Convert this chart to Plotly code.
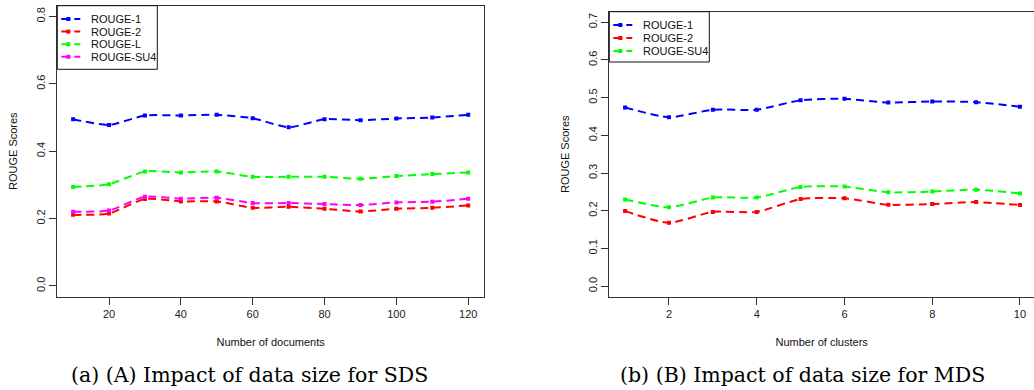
import plotly.graph_objects as go

W, H = 1034, 390

# ---- data ----
docs = [10, 20, 30, 40, 50, 60, 70, 80, 90, 100, 110, 120]
sds_rouge1 = [0.495, 0.478, 0.506, 0.506, 0.508, 0.498, 0.471, 0.495, 0.492, 0.497, 0.500, 0.508]
sds_rouge2 = [0.211, 0.215, 0.258, 0.251, 0.251, 0.232, 0.235, 0.229, 0.221, 0.229, 0.232, 0.239]
sds_rougeL = [0.294, 0.302, 0.340, 0.337, 0.340, 0.324, 0.324, 0.324, 0.318, 0.326, 0.332, 0.337]
sds_rougeSU4 = [0.220, 0.224, 0.265, 0.259, 0.262, 0.246, 0.246, 0.243, 0.240, 0.248, 0.250, 0.259]

clusters = [1, 2, 3, 4, 5, 6, 7, 8, 9, 10]
mds_rouge1 = [0.474, 0.448, 0.468, 0.468, 0.493, 0.497, 0.487, 0.490, 0.488, 0.476]
mds_rouge2 = [0.199, 0.168, 0.197, 0.197, 0.231, 0.233, 0.216, 0.218, 0.223, 0.215]
mds_rougeSU4 = [0.230, 0.209, 0.235, 0.235, 0.263, 0.264, 0.249, 0.251, 0.256, 0.246]

sds_names = ["ROUGE-1", "ROUGE-2", "ROUGE-L", "ROUGE-SU4"]
sds_colors = ["#0000ff", "#ff0000", "#00ff00", "#ff00ff"]
mds_names = ["ROUGE-1", "ROUGE-2", "ROUGE-SU4"]
mds_colors = ["#0000ff", "#ff0000", "#00ff00"]

xticks_sds = [20, 40, 60, 80, 100, 120]
yticks_sds = [0.0, 0.2, 0.4, 0.6, 0.8]
xticks_mds = [2, 4, 6, 8, 10]
yticks_mds = [0.0, 0.1, 0.2, 0.3, 0.4, 0.5, 0.6, 0.7]

captions = ["(a) (A) Impact of data size for SDS", "(b) (B) Impact of data size for MDS"]

FONT = "Liberation Sans, Arial, sans-serif"
AX = "#333333"
DASH = "8px,5px"

def px(x):
    return x / W

def py(y):
    return (H - y) / H

fig = go.Figure()

for name, col, vals in zip(sds_names, sds_colors, [sds_rouge1, sds_rouge2, sds_rougeL, sds_rougeSU4]):
    fig.add_trace(go.Scatter(x=docs, y=vals, name=name, mode="lines+markers",
                             line=dict(color=col, width=2, dash=DASH, shape="spline", smoothing=0.6),
                             marker=dict(symbol="square", size=4, color=col),
                             xaxis="x", yaxis="y", showlegend=False))
for name, col, vals in zip(mds_names, mds_colors, [mds_rouge1, mds_rouge2, mds_rougeSU4]):
    fig.add_trace(go.Scatter(x=clusters, y=vals, name=name, mode="lines+markers",
                             line=dict(color=col, width=2, dash=DASH, shape="spline", smoothing=0.6),
                             marker=dict(symbol="square", size=4, color=col),
                             xaxis="x2", yaxis="y2", showlegend=False))

axis_common = dict(showgrid=False, zeroline=False, showline=True, linecolor=AX, linewidth=1,
                   ticks="outside", ticklen=7, tickcolor=AX, tickwidth=1,
                   tickfont=dict(family=FONT, size=11, color="#222222"),
                   title_font=dict(family=FONT, size=11, color="#111111"))

fig.update_layout(
    width=W, height=H, margin=dict(l=0, r=0, t=0, b=0),
    paper_bgcolor="white", plot_bgcolor="white",
    xaxis=dict(axis_common, domain=[px(57.3), px(484)], range=[5.6, 124.4], tickvals=xticks_sds,
               mirror=True, anchor="y",
               title=dict(text="Number of documents", standoff=19)),
    yaxis=dict(axis_common, domain=[py(296.7), py(5.7)], range=[-0.032, 0.832], tickvals=yticks_sds,
               ticktext=[f"{v:.1f}" for v in yticks_sds], tickangle=-90, mirror=True, anchor="x",
               title=dict(text="ROUGE Scores", standoff=15)),
    xaxis2=dict(axis_common, domain=[px(609.3), 1.0], range=[0.64, 10.32], tickvals=xticks_mds,
                mirror=True, anchor="y2",
                title=dict(text="Number of clusters", standoff=19)),
    yaxis2=dict(axis_common, domain=[py(296.7), py(11.7)], range=[-0.028, 0.728], tickvals=yticks_mds,
                ticktext=[f"{v:.1f}" for v in yticks_mds], tickangle=-90, mirror=False, anchor="x2",
                title=dict(text="ROUGE Scores", standoff=15)),
    showlegend=False,
)

shapes = []
annotations = []

def add_legend(box_x0, box_y0, box_x1, box_y1, names, colors, ys):
    shapes.append(dict(type="rect", xref="paper", yref="paper",
                       x0=px(box_x0), x1=px(box_x1), y0=py(box_y1), y1=py(box_y0),
                       line=dict(color="#111111", width=1), fillcolor="white", layer="above"))
    for name, col, yc in zip(names, colors, ys):
        shapes.append(dict(type="line", xref="paper", yref="paper",
                           x0=px(box_x0 + 4), x1=px(box_x0 + 23), y0=py(yc), y1=py(yc),
                           line=dict(color=col, width=2, dash="9px,4px"), layer="above"))
        shapes.append(dict(type="rect", xref="paper", yref="paper",
                           x0=px(box_x0 + 9), x1=px(box_x0 + 13), y0=py(yc + 2), y1=py(yc - 2),
                           line=dict(width=0), fillcolor=col, layer="above"))
        annotations.append(dict(text=name, xref="paper", yref="paper", x=px(box_x0 + 31.5), y=py(yc),
                                xanchor="left", yanchor="middle", showarrow=False,
                                font=dict(family=FONT, size=11, color="#111111")))

add_legend(57.3, 5.7, 157.3, 69.3, sds_names, sds_colors, [19.0, 31.6, 44.2, 56.8])
add_legend(609.3, 11.7, 709.3, 62.0, mds_names, mds_colors, [25.0, 38.0, 51.0])

for cap, cx in zip(captions, [249, 802]):
    annotations.append(dict(text=cap, xref="paper", yref="paper", x=px(cx), y=py(375),
                            xanchor="center", yanchor="middle", showarrow=False,
                            font=dict(family="DejaVu Serif, serif", size=20.5, color="#000000")))

fig.update_layout(shapes=shapes, annotations=annotations)

fig.write_html("out.html", config={"displayModeBar": False},
               post_script="document.body.style.margin='0px';")
